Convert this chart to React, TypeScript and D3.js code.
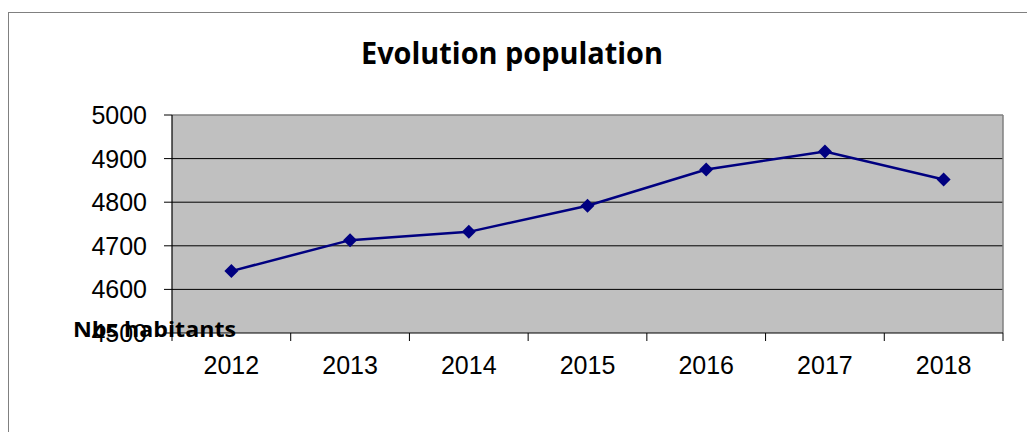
import React from "react";
import * as d3 from "d3";

const years = ["2012", "2013", "2014", "2015", "2016", "2017", "2018"];
const population = [4642, 4713, 4732, 4792, 4875, 4916, 4852];
const yTicks = [4500, 4600, 4700, 4800, 4900, 5000];
const title = "Evolution population";
const yTitle = "Nbs habitants";

export default function App() {
  const W = 1027, H = 432;
  const left = 172, right = 1003, top = 115, bottom = 333;
  const x = d3.scaleBand<string>().domain(years).range([left, right]).padding(0);
  const y = d3.scaleLinear().domain([4500, 5000]).range([bottom, top]);
  const line = d3
    .line<number>()
    .x((_, i) => (x(years[i]) as number) + x.bandwidth() / 2)
    .y((d) => y(d));
  const boundaries = years.map((yr) => x(yr) as number).concat([right]);
  const dm = 7;
  return (
    <svg width={W} height={H} style={{ position: "absolute", left: 0, top: 0, background: "#fff" }}>
      <rect x={8.5} y={12.5} width={1100} height={500} fill="#fff" stroke="#808080" strokeWidth={1} />
      <text x={512} y={64} textAnchor="middle" fontFamily="'Open Sans', Lato, sans-serif" fontWeight={700} fontSize={30} textLength={302} lengthAdjust="spacingAndGlyphs">
        {title}
      </text>
      <rect x={left} y={top} width={right - left} height={bottom - top} fill="#C0C0C0" />
      {yTicks.slice(1, -1).map((t) => (
        <line key={t} x1={left} x2={right} y1={y(t)} y2={y(t)} stroke="#000" strokeWidth={1} />
      ))}
      <line x1={left} x2={right} y1={top} y2={top} stroke="#808080" strokeWidth={1.5} />
      <line x1={right} x2={right} y1={top} y2={bottom} stroke="#808080" strokeWidth={1.5} />
      <line x1={left} x2={left} y1={top} y2={bottom} stroke="#000" strokeWidth={1.2} />
      <line x1={left} x2={right} y1={bottom} y2={bottom} stroke="#000" strokeWidth={1.2} />
      {yTicks.map((t) => (
        <g key={t}>
          <line x1={left - 8} x2={left} y1={y(t)} y2={y(t)} stroke="#000" strokeWidth={1} />
          <text x={147} y={y(t) + 9} textAnchor="end" fontFamily="'Liberation Sans', Arial, sans-serif" fontSize={25} fill="#000">
            {t}
          </text>
        </g>
      ))}
      {boundaries.map((b, i) => (
        <line key={i} x1={b} x2={b} y1={bottom} y2={bottom + 8} stroke="#000" strokeWidth={1} />
      ))}
      {years.map((yr) => (
        <text key={yr} x={(x(yr) as number) + x.bandwidth() / 2} y={374} textAnchor="middle" fontFamily="'Liberation Sans', Arial, sans-serif" fontSize={25} fill="#000">
          {yr}
        </text>
      ))}
      <path d={line(population) || ""} fill="none" stroke="#000080" strokeWidth={2.5} />
      {population.map((v, i) => {
        const cx = (x(years[i]) as number) + x.bandwidth() / 2;
        const cy = y(v);
        return (
          <path key={i} d={`M${cx},${cy - dm}L${cx + dm},${cy}L${cx},${cy + dm}L${cx - dm},${cy}Z`} fill="#000080" />
        );
      })}
      <text x={73} y={337} fontFamily="'Open Sans', Lato, sans-serif" fontWeight={700} fontSize={21} textLength={163} lengthAdjust="spacingAndGlyphs" fill="#000">
        {yTitle}
      </text>
    </svg>
  );
}
